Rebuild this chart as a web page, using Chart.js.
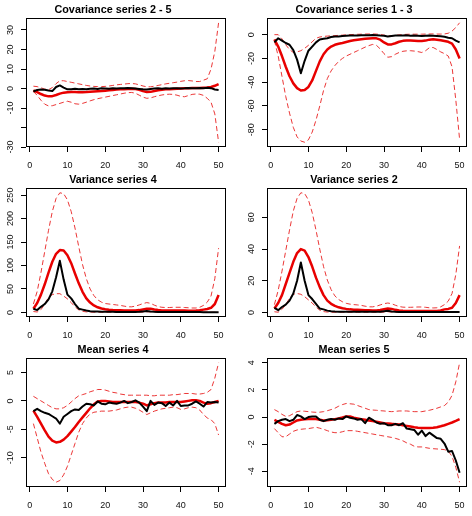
<!DOCTYPE html>
<html>
<head>
<meta charset="utf-8">
<script src="https://cdn.jsdelivr.net/npm/chart.js@4.4.1/dist/chart.umd.min.js"></script>
<style>
  body { margin: 0; background: #fff; width: 472px; height: 516px; position: relative; overflow: hidden; }
  canvas { position: absolute; }
</style>
</head>
<body>
<script>
// lag index on the x axis
const lags = [1,2,3,4,5,6,7,8,9,10,11,12,13,14,15,16,17,18,19,20,21,22,23,24,25,
              26,27,28,29,30,31,32,33,34,35,36,37,38,39,40,41,42,43,44,45,46,47,48,49,50];
const xTicks = [0, 10, 20, 30, 40, 50];

// Covariance series 2 - 5
const cov25Obs  = [-1.5,-0.7,-0.5,-0.6,-1.0,-1.3,0.8,1.6,0.5,-0.4,-0.3,-0.1,-0.4,-0.2,-0.3,-0.1,0,-0.2,0.1,0,
                   -0.1,0.1,0,0.2,0.1,0.3,0.2,0,-0.2,-0.4,-0.5,-0.2,0,0.1,-0.1,0.2,0,0.1,0.2,0,
                   0.1,0.3,0.2,0.1,0.3,0.2,0.4,0.2,-0.5,-0.7];
const cov25Mean = [-1.0,-1.8,-2.8,-3.6,-4.0,-3.9,-3.3,-2.6,-2.1,-1.9,-1.8,-1.8,-1.9,-1.9,-1.8,-1.6,-1.5,-1.4,-1.3,-1.1,
                   -0.9,-0.7,-0.5,-0.4,-0.3,-0.2,-0.1,-0.2,-0.6,-1.3,-1.8,-1.7,-1.3,-0.9,-0.6,-0.4,-0.3,-0.2,-0.1,0,
                   0.1,0.2,0.3,0.3,0.3,0.4,0.5,0.8,1.4,2.3];
const cov25Hi   = [1.2,1.0,0.4,-0.3,-0.6,0.5,2.5,4.0,4.0,3.6,3.2,2.8,2.4,2.0,1.6,1.3,1.1,1.0,1.0,1.1,
                   1.3,1.6,1.9,2.1,2.3,2.5,2.6,2.4,1.9,1.3,0.9,0.9,1.2,1.6,2.0,2.4,2.7,3.0,3.3,3.7,
                   4.0,4.1,3.9,3.6,3.6,4.3,5.0,10.0,19.0,33.7];
const cov25Lo   = [-1.5,-3.5,-6.0,-8.0,-8.9,-8.8,-8.2,-7.6,-7.0,-6.5,-7.0,-7.8,-8.0,-7.6,-7.0,-6.3,-5.7,-5.2,-4.8,-4.4,
                   -4.0,-3.6,-3.2,-2.8,-2.4,-2.1,-2.0,-2.4,-3.4,-4.4,-5.0,-4.8,-4.2,-3.7,-3.3,-3.0,-2.9,-3.0,-3.4,-4.0,
                   -4.2,-3.6,-3.0,-2.8,-2.9,-3.5,-5.0,-7.0,-13.0,-27.5];
const cov25Ticks  = [-30, -20, -10, 0, 10, 20, 30];
const cov25Labels = ['-30', '', '-10', '0', '10', '20', '30'];

// Covariance series 1 - 3
const cov13Obs  = [-6.5,-3.0,-5.0,-7.0,-8.5,-13.0,-21.0,-32.5,-22.0,-13.5,-10.0,-6.5,-4.0,-3.5,-3.0,-2.0,-1.5,-1.5,-1.2,-1.0,
                   -0.8,-0.6,-0.7,-0.5,-0.5,-0.4,-0.3,-0.5,-0.8,-1.0,-1.6,-1.2,-0.8,-0.6,-0.8,-0.5,-1.0,-0.8,-1.0,-1.2,
                   -1.0,-0.8,-1.0,-1.2,-1.4,-1.8,-2.6,-3.0,-5.0,-6.5];
const cov13Mean = [-4.0,-10.0,-18.0,-27.0,-35.0,-41.0,-45.0,-47.0,-46.5,-44.0,-38.5,-30.5,-22.5,-16.5,-12.5,-10.0,-8.5,-7.6,-7.0,-6.2,
                   -5.4,-4.7,-4.2,-3.8,-3.5,-3.2,-3.0,-3.1,-4.2,-6.5,-8.2,-8.2,-7.2,-6.0,-5.2,-5.0,-5.0,-5.1,-5.3,-5.4,
                   -5.0,-4.2,-3.9,-4.2,-4.7,-5.3,-6.0,-7.5,-12.5,-20.0];
const cov13Hi   = [0,0,-3.5,-8.5,-12.5,-15.0,-14.5,-13.5,-11.5,-9.0,-6.0,-3.0,-2.0,-1.5,-1.2,-1.0,-0.8,-0.6,-0.4,-0.2,
                   0,0.2,0.3,0.4,0.5,0.6,0.6,0.5,0.2,-0.4,-1.0,-1.0,-0.6,-0.2,0.1,0.3,0.4,0.4,0.4,0.4,
                   0.5,0.6,0.6,0.5,0.5,0.6,1.2,3.0,6.0,10.0];
const cov13Lo   = [-5,-18,-35,-52,-66,-78,-86,-89.5,-90.5,-88.5,-82,-72,-60,-47,-37,-30.5,-26,-22.5,-20,-18,
                   -16.5,-15,-13.5,-12,-10.5,-9.2,-8.2,-9.0,-12,-16,-19,-18.5,-16.5,-15,-14,-13.6,-13.5,-13.8,-14.3,-15,
                   -13.5,-11,-10.8,-12.5,-14.5,-16,-18,-27,-55,-88];
const cov13Ticks  = [-80, -60, -40, -20, 0];
const cov13Labels = ['-80', '-60', '-40', '-20', '0'];

// Variance series 4
const var4Obs  = [8,5,12,18,28,45,75,110,70,38,30,18,8,6,4,2.5,2,1.8,1.5,1.5,
                  1.4,1.3,1.2,1.2,1.1,1.0,1.0,1.2,1.5,2.2,3.0,2.0,1.5,1.2,1.0,1.0,0.9,0.9,0.9,0.9,
                  0.8,0.8,0.8,0.8,0.8,0.7,0.7,0.7,0.7,0.7];
const var4Mean = [8,20,38,60,85,108,125,133,132,122,105,83,62,44,30,21,15,11,8.5,7,
                  6,5.2,4.8,4.5,4.2,4,4,4.2,5,6.5,8,7.8,6.2,5,4.3,4,4,4,4,4,
                  4,3.9,3.9,4,4.5,6,7.5,10,18,37];
const var4Hi   = [18,45,85,130,175,215,243,255,253,240,215,180,140,102,72,50,36,27,22,19,
                  18,17,16,15,13.5,12,12,13.5,16,19,21,19.5,15.5,12.5,11,10.5,10.5,11,11,11,
                  10.5,10,9.5,9.5,11,15,22,35,72,137];
const var4Lo   = [2,1,6,18,32,38,40,40,35,29,21,12,5.5,2.5,1.2,0.8,0.6,0.5,0.5,0.5,
                  0.5,0.5,0.5,0.5,0.5,0.5,0.5,0.5,0.6,1.0,1.5,1.2,0.8,0.5,0.5,0.5,0.5,0.5,0.5,0.5,
                  0.5,0.5,0.5,0.5,0.5,0.5,0.5,0.5,0.5,0.5];
const var4Ticks  = [0, 50, 100, 150, 200, 250];
const var4Labels = ['0', '50', '100', '150', '200', '250'];

// Variance series 2
const var2Obs  = [3,1.5,3.5,5,7.5,12,20,31.5,20,11,8.5,5.5,2.5,2,1.2,0.8,0.6,0.5,0.5,0.5,
                  0.5,0.45,0.45,0.45,0.45,0.45,0.45,0.45,0.5,0.8,1.1,0.7,0.5,0.4,0.4,0.4,0.4,0.4,0.4,0.4,
                  0.4,0.4,0.4,0.4,0.4,0.4,0.4,0.4,0.4,0.4];
const var2Mean = [2.5,6,11,18,25,32,37.5,40,39,35,29,22,16,11,7.5,5.5,4.2,3.3,2.7,2.3,
                  2.0,1.8,1.7,1.6,1.5,1.4,1.3,1.3,1.6,2.1,2.5,2.3,1.7,1.3,1.1,1.0,1.0,1.0,1.0,1.0,
                  1.0,1.0,1.0,1.0,1.3,2.0,2.3,3.0,6.0,11];
const var2Hi   = [5,14,26,39,52,64,72,75.5,75,71,63,52,40,29,20.5,14.5,10.5,8.2,6.8,5.8,
                  5.3,5.0,4.8,4.5,4.0,3.6,3.6,4.0,4.8,5.6,6.0,5.6,4.6,3.8,3.4,3.3,3.3,3.4,3.5,3.5,
                  3.3,3.0,2.9,3.0,3.6,5.0,7.2,12,24,42];
const var2Lo   = [0.5,0.2,2,5,9,11.5,12,11.5,10,8,6,3.5,1.5,0.6,0.3,0.2,0.2,0.2,0.2,0.2,
                  0.2,0.2,0.2,0.2,0.2,0.2,0.2,0.2,0.2,0.3,0.5,0.3,0.2,0.2,0.2,0.2,0.2,0.2,0.2,0.2,
                  0.2,0.2,0.2,0.2,0.2,0.2,0.2,0.2,0.2,0.2];
const var2Ticks  = [0, 20, 40, 60];
const var2Labels = ['0', '20', '40', '60'];

// Mean series 4
const mean4Obs  = [-1.8,-1.4,-1.8,-2.1,-2.3,-2.7,-3.1,-4.0,-2.8,-2.3,-1.8,-1.5,-1.6,-1.0,-0.5,-0.6,-0.8,-0.1,-0.5,-0.6,
                   -0.3,-0.4,-0.5,-0.3,0,-0.4,-0.2,0.1,-0.3,-1.0,-1.8,0,-0.7,-0.3,-0.4,-0.9,-0.3,-0.8,0,-0.9,
                   -0.8,-0.8,-0.5,-0.1,-0.5,-1.0,-0.2,-0.3,-0.2,-0.3];
const mean4Mean = [-1.7,-2.8,-4.0,-5.2,-6.3,-7.0,-7.3,-7.2,-6.8,-6.2,-5.4,-4.6,-3.7,-2.9,-2.1,-1.3,-0.6,-0.1,0,0,
                   -0.1,-0.2,-0.2,-0.2,-0.2,-0.2,-0.2,-0.2,-0.3,-0.5,-0.8,-0.6,-0.4,-0.3,-0.3,-0.3,-0.2,-0.2,-0.2,-0.2,
                   -0.1,0,0.1,0.1,0,-0.3,-0.5,-0.4,-0.2,0];
const mean4Hi   = [0.8,0.4,0,-0.4,-0.8,-1.2,-1.4,-1.4,-1.2,-0.8,-0.2,0.4,0.9,1.1,1.3,1.6,1.8,2.0,2.0,1.9,
                   1.7,1.5,1.4,1.2,1.1,1.0,1.0,1.0,1.0,1.0,1.0,0.9,0.9,1.0,1.0,1.0,1.0,1.1,1.1,1.2,
                   1.3,1.3,1.3,1.2,1.2,1.3,1.5,2.0,4.0,6.7];
const mean4Lo   = [-4.0,-6.5,-9.0,-11.0,-12.8,-13.8,-14.3,-14.0,-13.0,-11.5,-9.5,-7.5,-5.5,-4.0,-3.0,-2.3,-2.0,-1.9,-1.8,-1.8,
                   -1.8,-1.7,-1.6,-1.4,-1.2,-1.1,-1.1,-1.3,-1.6,-2.0,-2.4,-2.1,-1.8,-1.6,-1.4,-1.3,-1.2,-1.1,-1.2,-1.5,
                   -1.4,-1.2,-1.1,-1.2,-1.6,-2.4,-3.0,-3.3,-4.0,-6.0];
const mean4Ticks  = [-10, -5, 0, 5];
const mean4Labels = ['-10', '-5', '0', '5'];

// Mean series 5
const mean5Obs  = [-0.5,-0.3,-0.2,-0.15,-0.3,-0.2,0.15,0.05,-0.15,0,0.05,0.05,-0.2,-0.3,-0.2,-0.15,-0.2,-0.1,-0.15,0.05,
                   -0.05,-0.1,-0.2,-0.15,-0.45,-0.05,-0.2,-0.4,-0.5,-0.45,-0.6,-0.6,-0.5,-0.6,-0.45,-0.85,-0.9,-0.95,-1.3,-1.0,
                   -1.4,-1.15,-1.35,-1.55,-1.6,-1.95,-2.55,-2.5,-3.2,-4.1];
const mean5Mean = [-0.2,-0.35,-0.5,-0.6,-0.55,-0.4,-0.25,-0.2,-0.17,-0.15,-0.15,-0.15,-0.2,-0.25,-0.23,-0.2,-0.15,-0.1,-0.03,0.05,
                   0.05,-0.05,-0.1,-0.15,-0.2,-0.25,-0.3,-0.35,-0.4,-0.45,-0.47,-0.5,-0.52,-0.55,-0.6,-0.65,-0.7,-0.75,-0.78,-0.8,
                   -0.8,-0.8,-0.78,-0.75,-0.68,-0.6,-0.5,-0.4,-0.28,-0.15];
const mean5Hi   = [0.55,0.4,0.2,0.05,0.1,0.25,0.4,0.45,0.43,0.4,0.37,0.35,0.36,0.4,0.47,0.55,0.65,0.8,0.92,1.0,
                   0.98,0.95,0.85,0.75,0.65,0.55,0.52,0.5,0.47,0.45,0.42,0.4,0.42,0.45,0.45,0.45,0.42,0.4,0.4,0.4,
                   0.45,0.5,0.57,0.65,0.75,0.85,1.1,1.6,2.6,4.0];
const mean5Lo   = [-0.85,-1.15,-1.45,-1.45,-1.25,-1.05,-0.95,-0.9,-0.87,-0.85,-0.8,-0.75,-0.82,-0.9,-1.0,-1.1,-1.15,-1.15,-1.08,-1.0,
                   -1.0,-1.0,-1.05,-1.1,-1.15,-1.2,-1.25,-1.3,-1.35,-1.4,-1.45,-1.5,-1.57,-1.65,-1.75,-1.9,-2.0,-2.15,-2.2,-2.2,
                   -2.25,-2.3,-2.33,-2.35,-2.37,-2.4,-2.5,-2.9,-3.7,-4.8];
const mean5Ticks  = [-4, -2, 0, 2, 4];
const mean5Labels = ['-4', '-2', '0', '2', '4'];

const panels = [
  { title: 'Covariance series 2 - 5', obs: cov25Obs, mean: cov25Mean, hi: cov25Hi, lo: cov25Lo, ticks: cov25Ticks, labels: cov25Labels },
  { title: 'Covariance series 1 - 3', obs: cov13Obs, mean: cov13Mean, hi: cov13Hi, lo: cov13Lo, ticks: cov13Ticks, labels: cov13Labels },
  { title: 'Variance series 4', obs: var4Obs, mean: var4Mean, hi: var4Hi, lo: var4Lo, ticks: var4Ticks, labels: var4Labels },
  { title: 'Variance series 2', obs: var2Obs, mean: var2Mean, hi: var2Hi, lo: var2Lo, ticks: var2Ticks, labels: var2Labels },
  { title: 'Mean series 4', obs: mean4Obs, mean: mean4Mean, hi: mean4Hi, lo: mean4Lo, ticks: mean4Ticks, labels: mean4Labels },
  { title: 'Mean series 5', obs: mean5Obs, mean: mean5Mean, hi: mean5Hi, lo: mean5Lo, ticks: mean5Ticks, labels: mean5Labels }
];

const FONT = '"Liberation Sans", Arial, Helvetica, sans-serif';
const W = 236, H = 172;
const colLeft = [0, 241];
const rowTop = [0, 170, 340];

// R style axis range: data range padded by 4% each side
function padRange(arrs) {
  const all = [].concat(...arrs);
  const lo = Math.min(...all), hi = Math.max(...all);
  const d = (hi - lo) * 0.04;
  return [lo - d, hi + d];
}

function pts(vals) {
  return vals.map((v, i) => ({ x: lags[i], y: v }));
}

// box around the plot region plus rotated y tick labels
const frame = {
  id: 'frame',
  afterDraw(chart, args, opts) {
    const { ctx, chartArea: a, scales: { y } } = chart;
    ctx.save();
    ctx.strokeStyle = '#000';
    ctx.lineWidth = 1;
    ctx.strokeRect(Math.round(a.left) + 0.5, Math.round(a.top) + 0.5,
                   Math.round(a.right - a.left) - 1, Math.round(a.bottom - a.top) - 1);
    ctx.font = '9px ' + FONT;
    ctx.fillStyle = '#111';
    ctx.textAlign = 'center';
    ctx.textBaseline = 'middle';
    opts.ticks.forEach((v, i) => {
      const lab = opts.labels[i];
      if (!lab) return;
      ctx.save();
      ctx.translate(a.left - 15, y.getPixelForValue(v));
      ctx.rotate(-Math.PI / 2);
      ctx.fillText(lab, 0, 0);
      ctx.restore();
    });
    ctx.restore();
  }
};

const xr = padRange([lags]);

panels.forEach((p, k) => {
  const cv = document.createElement('canvas');
  cv.width = W;
  cv.height = H;
  cv.style.left = colLeft[k % 2] + 'px';
  cv.style.top = rowTop[Math.floor(k / 2)] + 'px';
  document.body.appendChild(cv);

  const yr = padRange([p.obs, p.mean, p.hi, p.lo]);
  const tickGrid = { drawOnChartArea: false, drawTicks: true, tickLength: 5, color: '#000', lineWidth: 1 };

  new Chart(cv.getContext('2d'), {
    type: 'line',
    data: {
      datasets: [
        { data: pts(p.obs), borderColor: '#000', borderWidth: 2, order: 0 },
        { data: pts(p.mean), borderColor: '#e80000', borderWidth: 2.5, order: 1 },
        { data: pts(p.hi), borderColor: 'rgba(232,20,20,0.85)', borderWidth: 1, borderDash: [5, 3], order: 2 },
        { data: pts(p.lo), borderColor: 'rgba(232,20,20,0.85)', borderWidth: 1, borderDash: [5, 3], order: 2 }
      ]
    },
    options: {
      responsive: false,
      animation: false,
      events: [],
      layout: { padding: { left: 0, right: 10, top: 0, bottom: 0 } },
      elements: {
        point: { radius: 0 },
        line: { tension: 0, fill: false, borderJoinStyle: 'round' }
      },
      plugins: {
        legend: { display: false },
        tooltip: { enabled: false },
        title: {
          display: true,
          text: p.title,
          color: '#000',
          font: { family: FONT, size: 10.8, weight: 'bold', lineHeight: '13px' },
          padding: { top: 4, bottom: 1 }
        },
        frame: { ticks: p.ticks, labels: p.labels }
      },
      scales: {
        x: {
          type: 'linear',
          min: xr[0],
          max: xr[1],
          afterBuildTicks: s => { s.ticks = xTicks.map(v => ({ value: v })); },
          afterFit: s => { s.height = 25; },
          grid: tickGrid,
          border: { display: false },
          ticks: {
            font: { family: FONT, size: 9 },
            color: '#111',
            padding: 8,
            maxRotation: 0,
            autoSkip: false,
            callback: v => String(v)
          }
        },
        y: {
          type: 'linear',
          min: yr[0],
          max: yr[1],
          afterBuildTicks: s => { s.ticks = p.ticks.map(v => ({ value: v })); },
          afterFit: s => { s.width = 26; },
          grid: tickGrid,
          border: { display: false },
          ticks: { display: false }
        }
      }
    },
    plugins: [frame]
  });
});
</script>
</body>
</html>
